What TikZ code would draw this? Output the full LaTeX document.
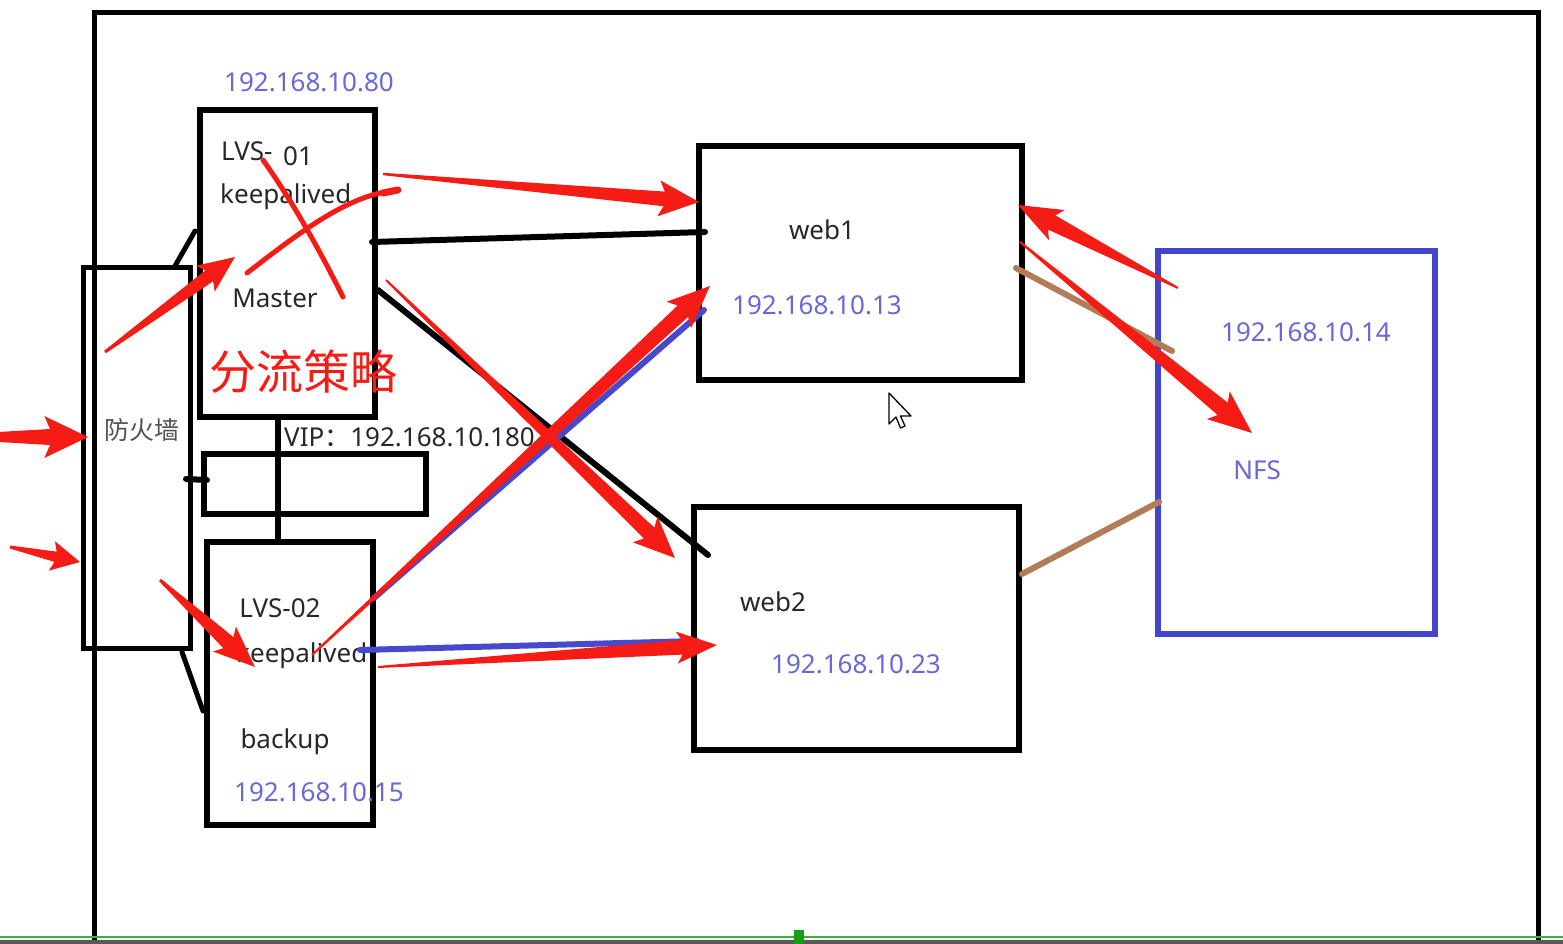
\documentclass[tikz,border=0pt]{standalone}
\usepackage{fontspec}
\setmainfont{Noto Sans}
\newfontfamily\cjk{Noto Sans CJK SC}
\usetikzlibrary{calc}
\definecolor{arrred}{RGB}{246,28,22}
\definecolor{ipblue}{RGB}{104,104,218}
\definecolor{nfsblue}{RGB}{66,70,204}
\definecolor{lnblue}{RGB}{70,72,206}
\definecolor{brownln}{RGB}{178,124,88}
\definecolor{txtdark}{RGB}{40,40,40}
\definecolor{grnln}{RGB}{60,180,60}
\definecolor{grnsq}{RGB}{20,160,20}
\newcommand\redarrow[7]{% x1 y1 x2 y2 tailhalf headlen headhalf
  \pgfmathsetmacro\rang{-atan2(#4-#2,#3-#1)}%
  \pgfmathsetmacro\rlen{veclen(#3-#1,#4-#2)}%
  \fill[arrred,shift={(#1,#2)},rotate=\rang] (0,-#5) -- (\rlen-#6,-#6*0.21) -- (\rlen-#6*1.15,-#7) -- (\rlen,0) -- (\rlen-#6*1.15,#7) -- (\rlen-#6,#6*0.21) -- (0,#5) -- cycle;}
\tikzset{
  srvbox/.style={draw=black, line width=6pt, inner sep=0, fill=none},
  txt/.style={inner sep=0, text=txtdark, font=\fontsize{26}{28}\selectfont},
  iptxt/.style={inner sep=0, text=ipblue, font=\fontsize{26}{28}\selectfont},
  blkln/.style={draw=black, line width=6pt, line cap=round},
  blueln/.style={draw=lnblue, line width=6pt, line cap=round},
  brownlink/.style={draw=brownln, line width=6pt, line cap=round},
  redstroke/.style={draw=arrred, line width=5pt, line cap=round},
}
\begin{document}
\begin{tikzpicture}[x=1pt,y=-1pt]
\useasboundingbox (0,0) rectangle (1563,944);
\fill[white] (0,0) rectangle (1563,944);
% outer frame
\draw[line width=5pt] (94,944) |- (1538,13) -- (1538,944);
% boxes
\node[srvbox, line width=5pt, minimum width=107pt, minimum height=381pt] (fw) at (136.5,457.5) {};
\node[srvbox, minimum width=175pt, minimum height=307pt] (lvs1) at (287.5,263.5) {};
\node[srvbox, minimum width=222pt, minimum height=60pt] (vip) at (315,484) {};
\node[srvbox, minimum width=166pt, minimum height=283pt] (lvs2) at (290,683.5) {};
\node[srvbox, minimum width=323pt, minimum height=234pt] (web1) at (860.5,263) {};
\node[srvbox, minimum width=325pt, minimum height=243pt] (web2) at (856.5,628.5) {};
\node[srvbox, draw=nfsblue, minimum width=277pt, minimum height=383pt] (nfs) at (1296.5,442.5) {};
% texts
\node[iptxt, anchor=base] (ip80) at (309,92) {192.168.10.80};
\node[txt, anchor=base west] (l1a) at (221,161) {LVS-};
\node[txt, anchor=base west] (l1b) at (283,166) {01};
\node[txt, anchor=base west] (ka1) at (220,204) {keepalived};
\node[txt, anchor=base] (mst) at (275,307) {Master};
\node[inner sep=0, text=arrred, font=\cjk\fontsize{47}{50}\selectfont] (flcl) at (303,372) {分流策略};
\node[inner sep=0, text=txtdark!80, font=\cjk\fontsize{25}{28}\selectfont] (fwt) at (142,430) {防火墙};
\node[txt, anchor=base west] (viptxt) at (284,446) {VIP{\cjk ：}192.168.10.180};
\node[txt, anchor=base] (l2) at (280,617) {LVS-02};
\node[txt, anchor=base west] (ka2) at (236,662) {keepalived};
\node[txt, anchor=base] (bk) at (285,748) {backup};
\node[iptxt, anchor=base] (ip15) at (319,801) {192.168.10.15};
\node[txt, anchor=base] (w1t) at (822,240) {web1};
\node[iptxt, anchor=base] (ip13) at (817,314) {192.168.10.13};
\node[txt, anchor=base] (w2t) at (773,611) {web2};
\node[iptxt, anchor=base] (ip23) at (856,673) {192.168.10.23};
\node[iptxt, anchor=base] (ip14) at (1306,341) {192.168.10.14};
\node[iptxt, anchor=base] (nfst) at (1257,479) {NFS};
% connector end points
\coordinate (fwTop) at (175,266);
\coordinate (l1Left) at (195,231);
\coordinate (fwBot) at (182,652);
\coordinate (l2Left) at (203,711);
\coordinate (fwMid) at (186,479);
\coordinate (vipLeft) at (207,480);
\coordinate (l1Bot) at (278,418);
\coordinate (l2Top) at (278,544);
\coordinate (l1R1) at (372,242);
\coordinate (w1L1) at (705,232);
\coordinate (l1R2) at (378,290);
\coordinate (w2TL) at (708,555);
\coordinate (l2R1) at (374,598);
\coordinate (w1L2) at (704,310);
\coordinate (l2R2) at (360,650);
\coordinate (w2L) at (697,641);
\coordinate (w1R) at (1016,268);
\coordinate (nfsA) at (1172,351);
\coordinate (w2R) at (1022,574);
\coordinate (nfsB) at (1159,502);
% black links
\draw[blkln, line width=5pt] (fwTop) -- (l1Left);
\draw[blkln, line width=5pt] (fwBot) -- (l2Left);
\draw[blkln] (fwMid) -- (vipLeft);
\draw[blkln, line cap=butt] (l1Bot) -- (l2Top);
\draw[blkln] (l1R1) -- (w1L1);
\draw[blkln] (l1R2) -- (w2TL);
% brown links
\draw[brownlink] (w1R) -- (nfsA);
\draw[brownlink] (w2R) -- (nfsB);
% blue links
\draw[blueln] (l2R1) -- (w1L2);
\draw[blueln] (l2R2) -- (w2L);
% red cross on LVS-01
\draw[redstroke] (263,160) .. controls (295,205) and (322,255) .. (343,297);
\draw[redstroke] (247,273) .. controls (290,240) and (340,200) .. (385,192);
\draw[redstroke, line width=7pt] (383,193) -- (398,190);
% red arrows
\redarrow{-2}{437}{88}{437}{5}{38}{21}
\redarrow{10}{547}{80}{562}{1.5}{25}{15}
\redarrow{105}{352}{235}{257}{1.5}{32}{16}
\redarrow{160}{580}{255}{667}{1.5}{36}{17}
\redarrow{383}{174}{699}{202}{1.2}{35}{18}
\redarrow{386}{280}{675}{558}{1}{36}{18}
\redarrow{312}{655}{710}{286}{1}{37}{18}
\redarrow{378}{667}{717}{645}{1}{35}{16}
\redarrow{1178}{288}{1018}{205}{1}{38}{17}
\redarrow{1020}{242}{1252}{433}{1}{38}{18}
% mouse cursor
\draw[fill=white, draw=black, line width=1.3pt, line join=round, shift={(889,393)}]
  (0,0) -- (0,31) -- (7,24) -- (11.5,35) -- (16,33) -- (11.5,23) -- (22,23) -- cycle;
% bottom status strip
\fill[black!65] (0,940) rectangle (1563,944);
\draw[grnln, line width=2.5pt] (0,937) -- (1563,937);
\fill[grnsq] (794,930) rectangle (804,944);
\end{tikzpicture}
\end{document}
